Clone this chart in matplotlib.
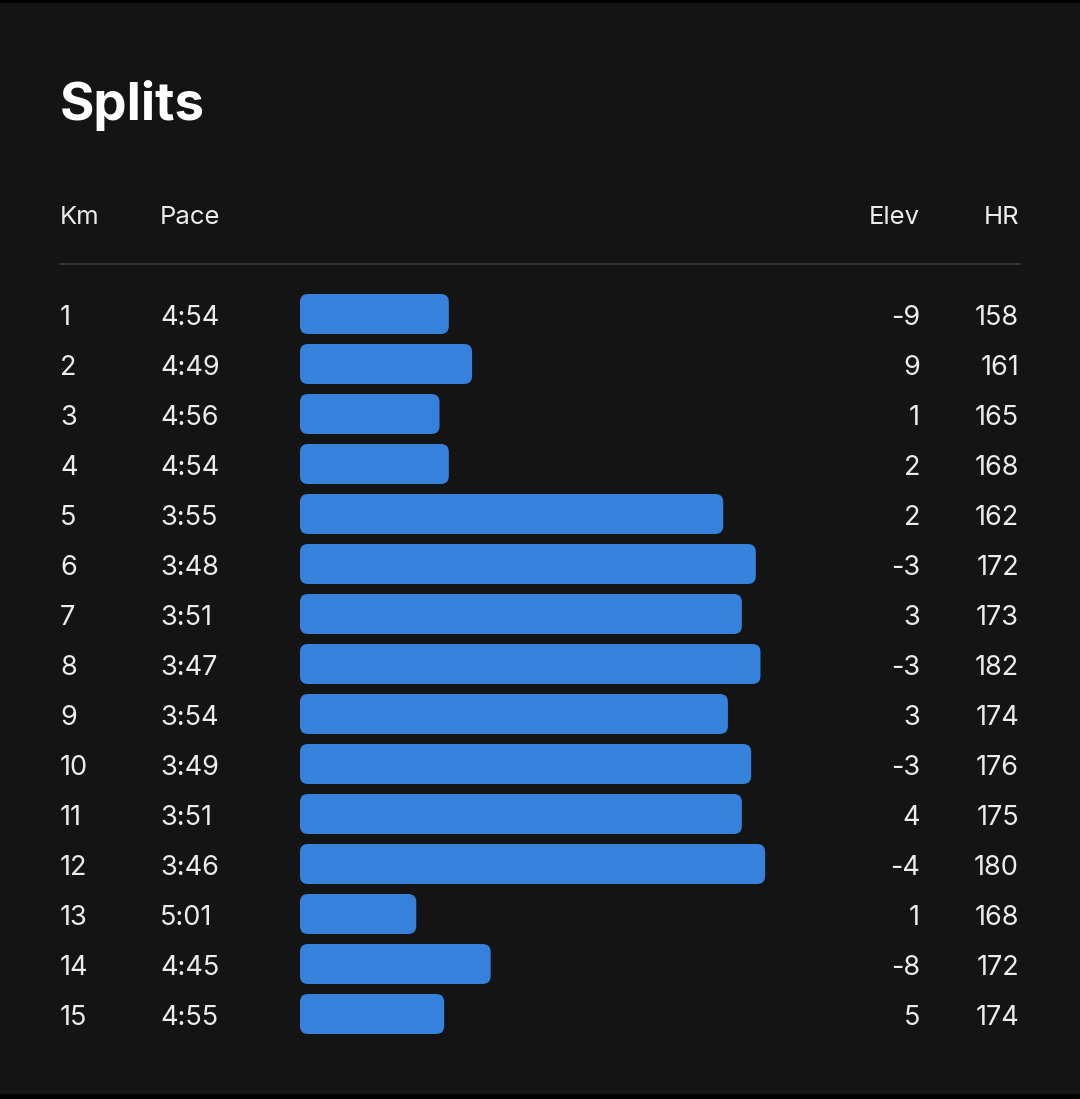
import matplotlib.pyplot as plt
from matplotlib.patches import FancyBboxPatch, Rectangle

# data
km = list(range(1, 16))
pace = ["4:54", "4:49", "4:56", "4:54", "3:55", "3:48", "3:51", "3:47",
        "3:54", "3:49", "3:51", "3:46", "5:01", "4:45", "4:55"]
elev = [-9, 9, 1, 2, 2, -3, 3, -3, 3, -3, 4, -4, 1, -8, 5]
hr = [158, 161, 165, 168, 162, 172, 173, 182, 174, 176, 175, 180, 168, 172, 174]
headers = ["Km", "Pace", "Elev", "HR"]

pace_sec = [int(p.split(":")[0]) * 60 + int(p.split(":")[1]) for p in pace]

W, H = 1080, 1099
BG = "#141414"
BAR = "#3581dc"
TXT = "#ececec"

plt.rcParams["font.family"] = ["Inter", "DejaVu Sans"]

fig = plt.figure(figsize=(W / 100, H / 100), dpi=100, facecolor="#000000")

# overlay axes in pixel units for the card and text
ax = fig.add_axes([0, 0, 1, 1])
ax.set_xlim(0, W)
ax.set_ylim(H, 0)
ax.axis("off")
ax.add_patch(Rectangle((0, 3), W, 1090, color=BG, zorder=0))

ax.text(60, 120, "Splits", fontsize=38, fontweight="bold", color="white")

ax.text(60, 224, headers[0], fontsize=18.5, color=TXT)
ax.text(160, 224, headers[1], fontsize=18.5, color=TXT)
ax.text(920, 224, headers[2], fontsize=18.5, color=TXT, ha="right")
ax.text(1019, 224, headers[3], fontsize=18.5, color=TXT, ha="right")
ax.plot([60, 1020], [263.5, 263.5], color="#3a3a3a", lw=1.2)

for i in range(len(km)):
    yb = 325 + 50 * i
    ax.text(60, yb, str(km[i]), fontsize=19.5, color=TXT)
    ax.text(160, yb, pace[i], fontsize=19.5, color=TXT)
    ax.text(920, yb, str(elev[i]), fontsize=19.5, color=TXT, ha="right")
    ax.text(1019, yb, str(hr[i]), fontsize=19.5, color=TXT, ha="right")

# bar axes: pace on an inverted axis, bars grow from the slow reference
slow_ref = 326
bx0, bx1, by0, by1 = 300, 800, 289, 1039
bax = fig.add_axes([bx0 / W, (H - by1) / H, (bx1 - bx0) / W, (by1 - by0) / H])
xpx = (slow_ref - 218.5) / (bx1 - bx0)
bax.set_xlim(slow_ref, slow_ref - xpx * (bx1 - bx0))
bax.set_ylim(len(km) + 0.5, 0.5)
bax.axis("off")

bars = bax.barh(km, [p - slow_ref for p in pace_sec], left=slow_ref, height=0.8)
ypx = len(km) / (by1 - by0)
for b in bars:
    x0 = min(b.get_x(), b.get_x() + b.get_width())
    w = abs(b.get_width())
    y0, h = b.get_y(), b.get_height()
    b.remove()
    bax.add_patch(FancyBboxPatch((x0, y0), w, h,
                                 boxstyle=f"round,pad=0,rounding_size={8 * xpx}",
                                 mutation_aspect=ypx / xpx,
                                 fc=BAR, ec="none"))

fig.savefig("out.png", dpi=100, facecolor=fig.get_facecolor())
